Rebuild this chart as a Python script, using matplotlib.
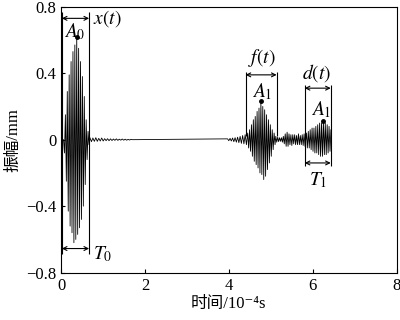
import numpy as np
import matplotlib
matplotlib.use('Agg')
import matplotlib.pyplot as plt

plt.rcParams['font.family'] = ['Liberation Serif', 'Noto Sans CJK SC', 'DejaVu Serif']
plt.rcParams['mathtext.fontset'] = 'stix'
plt.rcParams['axes.unicode_minus'] = True

# half-cycle peak values (time unit: 1e-4 s)
half_step = 0.0225

burst0_start = 0.06
burst0 = [0.0, -0.08, 0.15, -0.25, 0.29, -0.43, 0.39, -0.52, 0.47, -0.56,
          0.53, -0.62, 0.57, -0.60, 0.62, -0.57, 0.55, -0.53, 0.47, -0.48,
          0.38, -0.40, 0.26, -0.27, 0.12, -0.12, 0.05, -0.03]

ripple0_start = 0.69
ripple0_step = 0.035
ripple0 = [0.012, -0.012, 0.010, -0.010, 0.012, -0.010, 0.008, -0.008, 0.010, -0.008,
           0.006, -0.006, 0.006, -0.006, 0.005, -0.005, 0.004, -0.004, 0.005, -0.004,
           0.003, -0.003, 0.004, -0.003, 0.003, -0.003, 0.002, -0.002, 0.002, 0.0]

pre1_start = 3.97
pre1_step = 0.03
pre1 = [0.005, -0.006, 0.008, -0.008, 0.010, -0.012, 0.012, -0.015,
        0.015, -0.018, 0.020, -0.022, 0.025, -0.025, 0.030, -0.030]

burst1_start = 4.45
burst1 = [0.04, -0.05, 0.06, -0.07, 0.09, -0.10, 0.12, -0.13, 0.14, -0.15,
          0.17, -0.17, 0.19, -0.20, 0.23, -0.21, 0.20, -0.24, 0.18, -0.22,
          0.15, -0.18, 0.12, -0.14, 0.09, -0.10, 0.06, -0.06, 0.04, -0.03]

mid_start = 5.12
mid = [0.020, -0.015, 0.015, -0.012, 0.012, -0.010, 0.012, -0.015, 0.020, -0.025,
       0.035, -0.040, 0.045, -0.040, 0.035, -0.030, 0.030, -0.035, 0.030, -0.025,
       0.030, -0.030, 0.025, -0.030, 0.035, -0.030, 0.025, -0.030, 0.030, -0.035,
       0.035, -0.040]

burst2_start = 5.85
burst2 = [0.04, -0.05, 0.05, -0.05, 0.06, -0.06, 0.07, -0.07, 0.07, -0.08,
          0.08, -0.08, 0.09, -0.09, 0.10, -0.10, 0.10, -0.10, 0.11, -0.09,
          0.10, -0.09, 0.09, -0.08, 0.08, -0.07, 0.06]


def seg(start, step, vals):
    return start + step * np.arange(len(vals)), np.array(vals)


parts = [seg(burst0_start, half_step, burst0),
         seg(ripple0_start, ripple0_step, ripple0),
         seg(pre1_start, pre1_step, pre1),
         seg(burst1_start, half_step, burst1),
         seg(mid_start, half_step, mid),
         seg(burst2_start, half_step, burst2)]
t = np.concatenate([p[0] for p in parts])
y = np.concatenate([p[1] for p in parts])

fig = plt.figure(figsize=(4, 3.2), dpi=100)
ax = fig.add_axes([0.1525, 0.148, 0.839, 0.831])

ax.plot([0, t[0]], [0, 0], color='k', lw=0.6)
ax.plot(t, y, color='k', lw=0.6)

# peak dots taken from the data
for (tt, yy) in (parts[0], parts[3], parts[5]):
    i = np.argmax(yy)
    ax.plot(tt[i], yy[i], 'o', color='k', ms=2.5)

ax.set_xlim(0, 8)
ax.set_ylim(-0.8, 0.8)
ax.set_xticks([0, 2, 4, 6, 8])
ax.set_yticks([-0.8, -0.4, 0, 0.4, 0.8])
ax.set_yticklabels(['\u22120.8', '\u22120.4', '0', '0.4', '0.8'])
ax.tick_params(direction='in', length=3, labelsize=12, width=0.8)
for s in ax.spines.values():
    s.set_linewidth(0.8)

ax.set_xlabel('时间/10\u207b\u2074s', fontsize=12, labelpad=2)
ax.set_ylabel('振幅/mm', fontsize=12, labelpad=3)

ap = dict(arrowstyle='<->', lw=0.8, shrinkA=0, shrinkB=0, mutation_scale=7, color='k')


def bracket(x0, x1, yy):
    ax.annotate('', xy=(x0, yy), xytext=(x1, yy), arrowprops=ap)


fs = 14
# x(t) window
ax.vlines([0.02, 0.67], -0.685, 0.77, color='k', lw=0.8)
bracket(0.02, 0.67, 0.73)
bracket(0.02, 0.67, -0.655)
ax.text(0.76, 0.73, '$x(t)$', fontsize=fs, ha='left', va='center')
ax.text(0.33, 0.65, '$A_0$', fontsize=fs, ha='center', va='center')
ax.text(0.76, -0.69, '$T_0$', fontsize=fs, ha='left', va='center')

# f(t) window
ax.vlines([4.4, 5.14], 0.02, 0.41, color='k', lw=0.8)
bracket(4.4, 5.14, 0.39)
ax.text(4.78, 0.49, '$f(t)$', fontsize=fs, ha='center', va='center')
ax.text(4.8, 0.29, '$A_1$', fontsize=fs, ha='center', va='center')

# d(t) window
ax.vlines([5.81, 6.43], -0.16, 0.33, color='k', lw=0.8)
bracket(5.81, 6.43, 0.31)
bracket(5.81, 6.43, -0.14)
ax.text(6.1, 0.4, '$d(t)$', fontsize=fs, ha='center', va='center')
ax.text(6.2, 0.18, '$A_1$', fontsize=fs, ha='center', va='center')
ax.text(6.13, -0.245, '$T_1$', fontsize=fs, ha='center', va='center')

fig.savefig('out.png', dpi=100)
